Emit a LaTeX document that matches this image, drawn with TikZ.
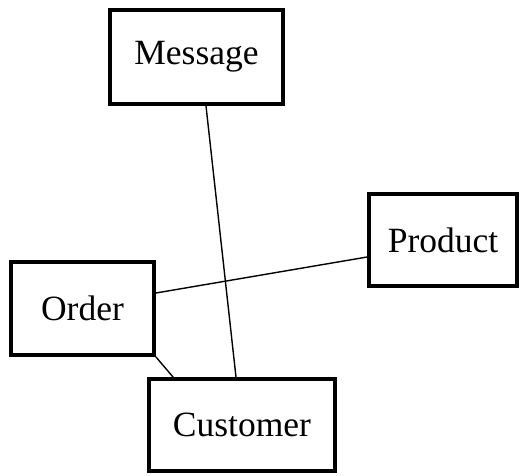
\documentclass[tikz,border=0pt]{standalone}
\usepackage{fontspec}
\setmainfont{Liberation Serif}
\begin{document}
\begin{tikzpicture}[x=1pt,y=-1pt,
  ent/.style={draw=black,line width=3.8pt,fill=white,inner sep=0pt,font=\fontsize{35.5}{40}\selectfont},
  conn/.style={draw=black,line width=1.4pt}]
\useasboundingbox (0,0) rectangle (524,475);
\node[ent,minimum width=173pt,minimum height=94pt] (m) at (196.5,57) {Message};
\node[ent,minimum width=148pt,minimum height=92pt] (p) at (443,240) {Product};
\node[ent,minimum width=143pt,minimum height=93pt] (o) at (82.5,308.5) {Order};
\node[ent,minimum width=186pt,minimum height=92pt] (c) at (242,425) {Customer};
\draw[conn] ([xshift=9.5pt]m.south) -- ([xshift=-6pt]c.north);
\draw[conn] ([yshift=15.5pt]o.east) -- ([yshift=-17pt]p.west);
\draw[conn] (o.south east) -- ([xshift=26pt]c.north west);
\end{tikzpicture}
\end{document}
